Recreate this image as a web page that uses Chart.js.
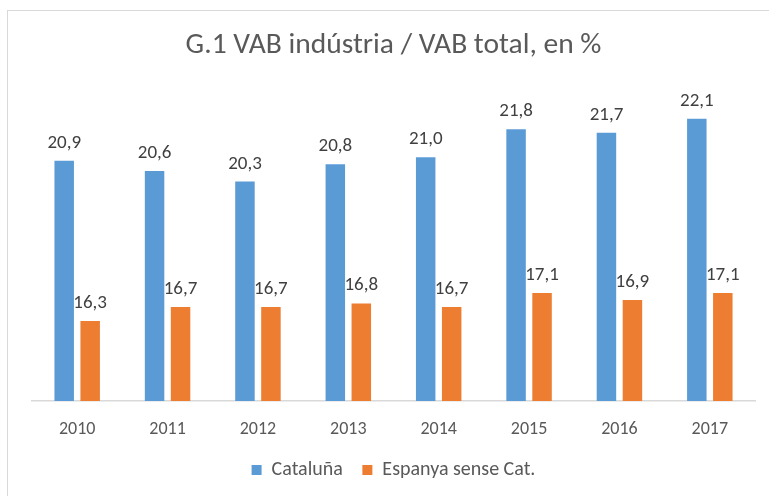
<!DOCTYPE html>
<html>
<head>
<meta charset="utf-8">
<script src="https://cdn.jsdelivr.net/npm/chart.js@4/dist/chart.umd.min.js"></script>
<style>
  html, body { margin: 0; padding: 0; background: #fff; overflow: hidden; }
  #wrap { position: relative; width: 769px; height: 496px; }
  #frame {
    position: absolute; left: 7px; top: 10px; width: 800px; height: 520px;
    border: 1.5px solid #d9d9d9; box-sizing: border-box;
  }
  #chart { position: absolute; left: 0; top: 0; }
</style>
</head>
<body>
<div id="wrap">
  <div id="frame"></div>
  <canvas id="chart" width="769" height="496"></canvas>
</div>
<script>
// --- Datos del gráfico ---
const years = ['2010', '2011', '2012', '2013', '2014', '2015', '2016', '2017'];
const cataluna = [20.9, 20.6, 20.3, 20.8, 21.0, 21.8, 21.7, 22.1];
const espanyaSenseCat = [16.3, 16.7, 16.7, 16.8, 16.7, 17.1, 16.9, 17.1];
const seriesNames = ['Cataluña', 'Espanya sense Cat.'];

const FONT = "Carlito, Calibri, Lato, 'Open Sans', sans-serif";

/**
 * Dibuja el valor encima de cada barra (formato con coma decimal).
 */
const barValueLabels = {
  id: 'barValueLabels',
  afterDatasetsDraw(chart) {
    const ctx = chart.ctx;
    ctx.save();
    ctx.font = '19px ' + FONT;
    ctx.fillStyle = '#404040';
    ctx.textAlign = 'center';
    ctx.textBaseline = 'alphabetic';
    chart.data.datasets.forEach((ds, i) => {
      const meta = chart.getDatasetMeta(i);
      meta.data.forEach((bar, j) => {
        const txt = ds.data[j].toFixed(1).replace('.', ',');
        ctx.fillText(txt, bar.x, bar.y - 13);
      });
    });
    ctx.restore();
  }
};

new Chart(document.getElementById('chart'), {
  type: 'bar',
  data: {
    labels: years,
    datasets: [
      {
        label: seriesNames[0],
        data: cataluna,
        backgroundColor: '#5B9BD5',
        categoryPercentage: 0.575,
        barPercentage: 0.75
      },
      {
        label: seriesNames[1],
        data: espanyaSenseCat,
        backgroundColor: '#ED7D31',
        categoryPercentage: 0.575,
        barPercentage: 0.75
      }
    ]
  },
  options: {
    responsive: false,
    animation: false,
    layout: { padding: { left: 32, right: 14, top: 0, bottom: 6 } },
    scales: {
      x: {
        grid: { display: false, drawTicks: false },
        border: { display: true, color: '#d9d9d9', width: 1.5 },
        ticks: { color: '#595959', font: { family: FONT, size: 18 }, padding: 17.5 },
        afterFit(scale) {
          scale.height = 39.5; // alto fijo del eje X
        }
      },
      y: {
        display: false,
        min: 14,
        max: 23
      }
    },
    plugins: {
      title: {
        display: true,
        text: 'G.1 VAB indústria / VAB total, en %',
        color: '#595959',
        font: { family: FONT, size: 29.5, weight: 'normal' },
        padding: { top: 28, bottom: 24.1 }
      },
      legend: {
        position: 'bottom',
        labels: {
          color: '#595959',
          font: { family: FONT, size: 20 },
          boxWidth: 10,
          boxHeight: 10,
          padding: 19.5
        }
      },
      tooltip: { enabled: false }
    }
  },
  plugins: [barValueLabels]
});
</script>
</body>
</html>
